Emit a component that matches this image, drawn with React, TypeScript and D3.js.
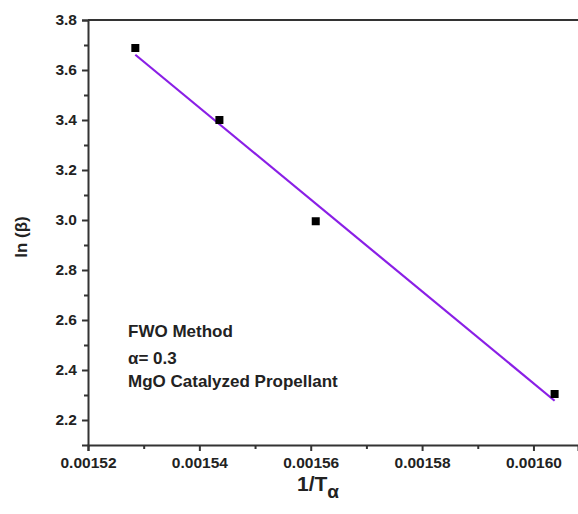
import * as d3 from 'd3';
import { useEffect, useRef } from 'react';

const WIDTH = 578, HEIGHT = 514;
const MARGIN = { top: 20, right: 0, bottom: 70, left: 88 };

// measured points, ln(beta) vs 1/T_alpha
const invT = [0.0015285, 0.0015436, 0.0015609, 0.0016038];
const lnBeta = [3.688, 3.4, 2.995, 2.304];

const xTicks = [0.00152, 0.00154, 0.00156, 0.00158, 0.0016];
const yTicks = [2.2, 2.4, 2.6, 2.8, 3.0, 3.2, 3.4, 3.6, 3.8];
const notes = ['FWO Method', 'α= 0.3', 'MgO Catalyzed Propellant'];

const FONT = '"Liberation Sans", Arial, sans-serif';
const AXIS = '#333';

// least squares fit for the straight line
const fit = () => {
    const mx = d3.mean(invT)!, my = d3.mean(lnBeta)!;
    let sxy = 0, sxx = 0;
    invT.forEach((x, i) => {
        sxy += (x - mx) * (lnBeta[i] - my);
        sxx += (x - mx) * (x - mx);
    });
    const slope = sxy / sxx;
    return (x: number) => my + slope * (x - mx);
};

const App = () => {
    const ref = useRef<SVGSVGElement>(null);

    useEffect(() => {
        const svg = d3.select(ref.current);
        svg.selectAll('*').remove();

        const x = d3.scaleLinear().domain([0.00152, 0.001608]).range([MARGIN.left, WIDTH - MARGIN.right]);
        const y = d3.scaleLinear().domain([2.1, 3.8]).range([HEIGHT - MARGIN.bottom + 1, MARGIN.top]);

        // top frame line
        svg.append('line')
            .attr('x1', x.range()[0]).attr('x2', x.range()[1])
            .attr('y1', y(3.8)).attr('y2', y(3.8))
            .attr('stroke', AXIS).attr('stroke-width', 2);

        const xAxis = svg.append('g')
            .attr('transform', `translate(0,${y(2.1)})`)
            .call(d3.axisBottom(x).tickValues(xTicks).tickSize(6).tickPadding(6).tickFormat(d3.format('.5f')));
        xAxis.append('g')
            .call(d3.axisBottom(x).tickValues(d3.range(0.00153, 0.00161, 0.00002)).tickSize(4).tickFormat(() => ''))
            .select('.domain').remove();

        const yAxis = svg.append('g')
            .attr('transform', `translate(${x(0.00152)},0)`)
            .call(d3.axisLeft(y).tickValues(yTicks).tickSize(6).tickPadding(5).tickFormat(d3.format('.1f')));
        yAxis.append('g')
            .call(d3.axisLeft(y).tickValues(d3.range(2.3, 3.8, 0.2)).tickSize(4).tickFormat(() => ''))
            .select('.domain').remove();

        [xAxis, yAxis].forEach(a => {
            a.selectAll('path, line').attr('stroke', AXIS).attr('stroke-width', 2);
            a.selectAll('text')
                .attr('fill', '#222')
                .style('font-family', FONT)
                .style('font-size', '15.5px')
                .style('font-weight', 'bold');
        });

        const f = fit();
        const xe = d3.extent(invT) as [number, number];
        svg.append('path')
            .datum(xe)
            .attr('d', d3.line<number>().x(d => x(d)).y(d => y(f(d))))
            .attr('stroke', '#8a1fe6')
            .attr('stroke-width', 2.2)
            .attr('fill', 'none');

        svg.append('g').selectAll('rect')
            .data(invT)
            .join('rect')
            .attr('x', d => x(d) - 4)
            .attr('y', (d, i) => y(lnBeta[i]) - 4)
            .attr('width', 8)
            .attr('height', 8)
            .attr('fill', '#000');

        svg.append('g').selectAll('text')
            .data(notes)
            .join('text')
            .attr('x', x(0.00152) + 40)
            .attr('y', (d, i) => [337, 364, 387][i])
            .attr('fill', '#222')
            .style('font-family', FONT)
            .style('font-size', '17px')
            .style('font-weight', 'bold')
            .text(d => d);

        svg.append('text')
            .attr('transform', `translate(27,237) rotate(-90)`)
            .attr('text-anchor', 'middle')
            .attr('fill', '#222')
            .style('font-family', FONT)
            .style('font-size', '17px')
            .style('font-weight', 'bold')
            .text('ln (β)');

        const xl = svg.append('text')
            .attr('x', 297)
            .attr('y', 491)
            .attr('fill', '#222')
            .style('font-family', FONT)
            .style('font-size', '21px')
            .style('font-weight', 'bold');
        xl.append('tspan').text('1/T');
        xl.append('tspan').attr('dy', 7).style('font-size', '19px').text('α');
    }, []);

    return (
        <svg ref={ref} width={WIDTH} height={HEIGHT}
            style={{ position: 'absolute', left: 0, top: 0, background: '#fff' }} />
    );
};

export default App;
